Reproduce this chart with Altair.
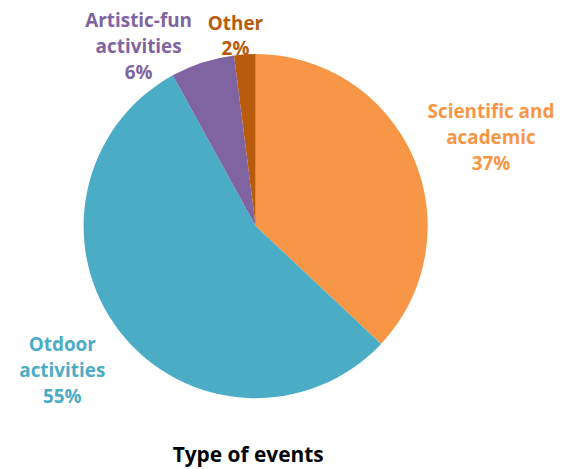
import altair as alt
import pandas as pd
import math

categories = ["Scientific and academic", "Otdoor activities", "Artistic-fun activities", "Other"]
label_lines = [["Scientific and", "academic", "37%"], ["Otdoor", "activities", "55%"],
               ["Artistic-fun", "activities", "6%"], ["Other", "2%"]]
values = [37, 55, 6, 2]
colors = ["#F79646", "#4BACC6", "#8064A2", "#B95B0C"]

df = pd.DataFrame({
    "category": categories,
    "value": values,
    "order": list(range(len(categories))),
    "label": label_lines,
})

CX, CY = 249, 218
color_scale = alt.Scale(domain=categories, range=colors)
theta_scale = alt.Scale(domain=[0, 100], range=[0, 2 * math.pi])

pie = alt.Chart(df).mark_arc(outerRadius=173, strokeWidth=0).encode(
    theta=alt.Theta("value:Q", stack=True, scale=theta_scale),
    order=alt.Order("order:Q"),
    x=alt.value(CX), y=alt.value(CY),
    color=alt.Color("category:N", scale=color_scale, legend=None),
)

# label placement per category: (radius, dx, dy)
placement = {
    "Scientific and academic": (248, 9, -16),
    "Otdoor activities": (241, -4, -28),
    "Artistic-fun activities": (219, -50, 2),
    "Other": (195, -8, -9),
}

layers = [pie]
for cat in categories:
    r, dx, dy = placement[cat]
    layers.append(
        alt.Chart(df).transform_window(
            cum="sum(value)", sort=[alt.SortField("order")]
        ).transform_calculate(
            mid="datum.cum - datum.value / 2"
        ).transform_filter(alt.datum.category == cat).mark_text(
            radius=r, dx=dx, dy=dy, font="Open Sans", fontWeight="bold",
            fontSize=19, lineHeight=26, align="center", baseline="middle"
        ).encode(
            theta=alt.Theta("mid:Q", stack=None, scale=theta_scale),
            x=alt.value(CX), y=alt.value(CY),
            text="label",
            color=alt.Color("category:N", scale=color_scale, legend=None),
        )
    )

chart = alt.layer(*layers).resolve_scale(theta="shared").properties(
    width=547, height=425,
    padding={"left": 0, "top": 0, "right": 0, "bottom": 12},
    title=alt.TitleParams("Type of events", orient="bottom", fontSize=21, font="Open Sans",
                          fontWeight="bold", color="#000000", offset=13, dx=-32),
).configure_view(stroke=None)

chart.save("out.html", embed_options={"renderer": "svg", "actions": False})
